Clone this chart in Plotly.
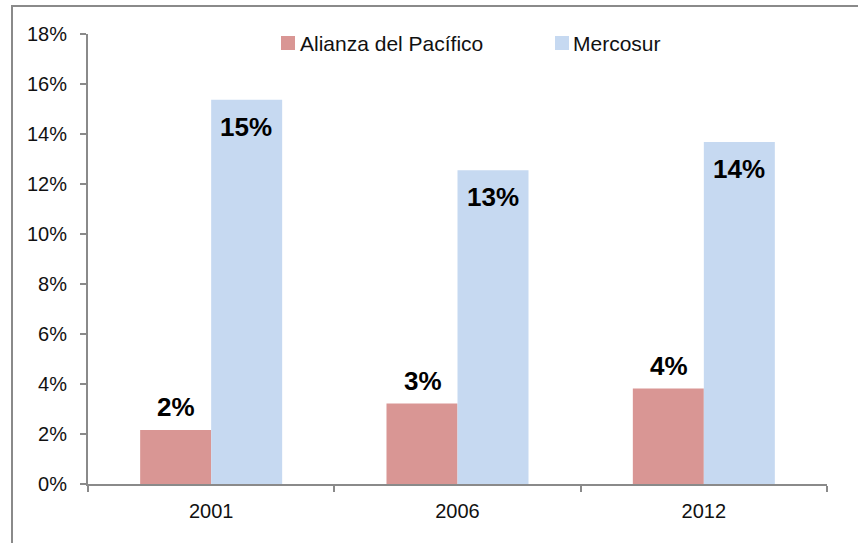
import plotly.graph_objects as go

years = ["2001", "2006", "2012"]
series_names = ["Alianza del Pacífico", "Mercosur"]
alianza = [2.16, 3.22, 3.82]
mercosur = [15.37, 12.55, 13.68]
alianza_labels = ["2%", "3%", "4%"]
mercosur_labels = ["15%", "13%", "14%"]
colors = ["#D99694", "#C6D9F1"]
y_ticks = [0, 2, 4, 6, 8, 10, 12, 14, 16, 18]
y_tick_text = [f"{v}%" for v in y_ticks]

W, H = 858, 543
ML, MR, MT, MB = 88, 31, 34, 59
PW, PH = W - ML - MR, H - MT - MB


def px(xp):
    return (xp - ML) / PW


def py(yp):
    return (H - MB - yp) / PH


FONT = "Liberation Sans, Arial, sans-serif"
AXIS_COLOR = "#8A8A8A"

fig = go.Figure()
fig.add_trace(go.Bar(x=years, y=alianza, name=series_names[0],
                     marker=dict(color=colors[0], line=dict(width=0)), showlegend=False))
fig.add_trace(go.Bar(x=years, y=mercosur, name=series_names[1],
                     marker=dict(color=colors[1], line=dict(width=0)), showlegend=False))

annotations = []
# category index positions on the category axis
for i, (v, t) in enumerate(zip(alianza, alianza_labels)):
    annotations.append(dict(x=i, y=v, xref="x", yref="y", text="<b>" + t + "</b>",
                            showarrow=False, xshift=-35, yshift=23, yanchor="middle",
                            font=dict(family=FONT, size=26, color="#000000")))
for i, (v, t) in enumerate(zip(mercosur, mercosur_labels)):
    annotations.append(dict(x=i, y=v, xref="x", yref="y", text="<b>" + t + "</b>",
                            showarrow=False, xshift=35, yshift=-27, yanchor="middle",
                            font=dict(family=FONT, size=26, color="#000000")))

# manual legend
legend_items = [(281, 295, 298), (555, 569, 571)]
shapes = []
for (sx0, sx1, tx), name, col in zip(legend_items, series_names, colors):
    shapes.append(dict(type="rect", xref="paper", yref="paper",
                       x0=px(sx0), x1=px(sx1), y0=py(50), y1=py(36),
                       fillcolor=col, line=dict(width=0)))
    annotations.append(dict(x=px(tx), y=py(43), xref="paper", yref="paper", text=name,
                            showarrow=False, xanchor="left", yanchor="middle",
                            font=dict(family=FONT, size=21, color="#111111")))

# outer chart frame (partially visible)
shapes.append(dict(type="line", xref="paper", yref="paper", x0=px(12), x1=px(12),
                   y0=py(560), y1=py(6), line=dict(color=AXIS_COLOR, width=2)))
shapes.append(dict(type="line", xref="paper", yref="paper", x0=px(11), x1=px(880),
                   y0=py(6), y1=py(6), line=dict(color=AXIS_COLOR, width=2)))

fig.update_layout(
    width=W, height=H,
    margin=dict(l=ML, r=MR, t=MT, b=MB, pad=0),
    paper_bgcolor="white", plot_bgcolor="white",
    barmode="group", bargap=0.4235, bargroupgap=0,
    annotations=annotations, shapes=shapes,
    font=dict(family=FONT, size=20, color="#111111"),
    xaxis=dict(type="category", categoryorder="array", categoryarray=years,
               range=[-0.5, len(years) - 0.5], automargin=False,
               showline=True, linecolor=AXIS_COLOR, linewidth=2,
               ticks="outside", tickson="boundaries", ticklen=6, tickwidth=2,
               tickcolor=AXIS_COLOR, showgrid=False, zeroline=False,
               tickangle=0, ticklabelstandoff=8,
               tickfont=dict(family=FONT, size=20, color="#111111")),
    yaxis=dict(range=[0, 18], tickmode="array", tickvals=y_ticks, ticktext=y_tick_text,
               automargin=False, ticklabelstandoff=9,
               showline=True, linecolor=AXIS_COLOR, linewidth=2, ticks="outside",
               ticklen=6, tickwidth=2, tickcolor=AXIS_COLOR, showgrid=False,
               zeroline=False, tickfont=dict(family=FONT, size=20, color="#111111")),
)

fig.write_html("out.html", config={"displayModeBar": False},
               post_script="document.body.style.margin='0';document.body.style.padding='0';")
